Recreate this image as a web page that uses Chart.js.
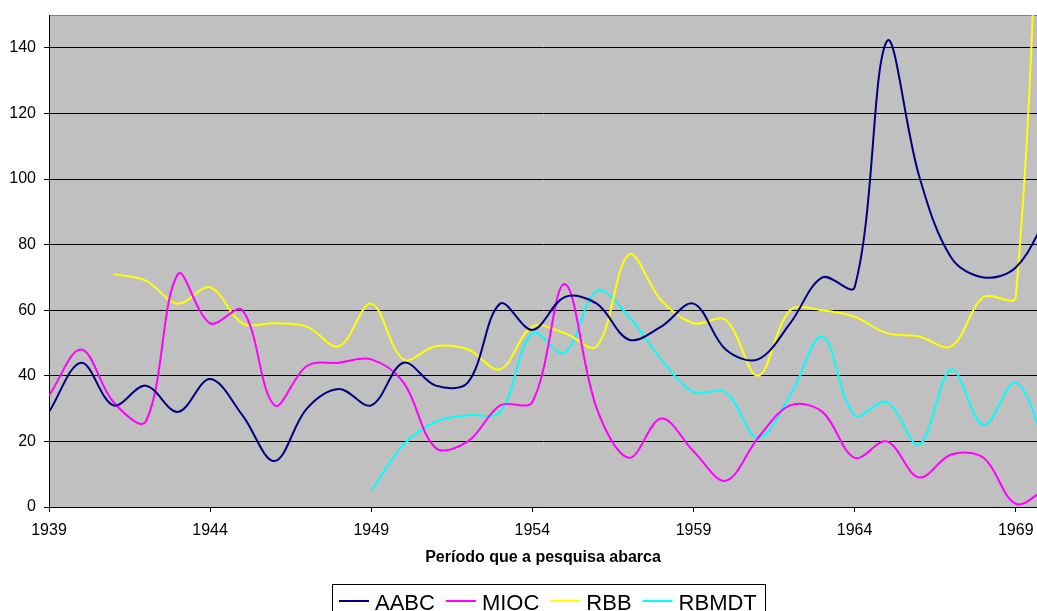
<!DOCTYPE html>
<html>
<head>
<meta charset="utf-8">
<script src="https://cdn.jsdelivr.net/npm/chart.js@4.4.0/dist/chart.umd.min.js"></script>
<style>
html, body { margin: 0; padding: 0; background: #fff; }
#wrap { width: 1037px; height: 611px; }
</style>
</head>
<body>
<div id="wrap"><canvas id="chart"></canvas></div>
<script>
var years = [1939, 1940, 1941, 1942, 1943, 1944, 1945, 1946, 1947, 1948,
             1949, 1950, 1951, 1952, 1953, 1954, 1955, 1956, 1957, 1958,
             1959, 1960, 1961, 1962, 1963, 1964, 1965, 1966, 1967, 1968,
             1969, 1970];
var aabc = [29, 44, 31, 37, 29, 39, 28, 14, 30, 36,
            31, 44, 37, 38, 62, 54, 64, 62, 51, 55,
            62, 48, 45, 56, 70, 67, 142, 101, 76, 70,
            73, 89];
var mioc = [34, 48, 32, 26, 71, 56, 60, 31, 43, 44,
            45, 38, 18, 20, 31, 32, 68, 30, 15, 27,
            17, 8, 21, 31, 29, 15, 20, 9, 16, 15,
            1, 6];
var rbb = [null, null, 71, 69, 62, 67, 56, 56, 55, 49,
           62, 45, 49, 48, 42, 55, 53, 49, 77, 63,
           56, 57, 40, 60, 60, 58, 53, 52, 49, 64,
           64, 290];
var rbmdt = [null, null, null, null, null, null, null, null, null, null,
             5, 19, 26, 28, 29, 53, 47, 66, 58, 45,
             35, 35, 21, 34, 52, 28, 32, 19, 42, 25,
             38, 17];
var yTicks = [0, 20, 40, 60, 80, 100, 120, 140];
var xTicks = [1939, 1944, 1949, 1954, 1959, 1964, 1969];

function pts(vals) {
    return years.map(function (y, i) { return { x: y, y: vals[i] }; });
}

function series(label, vals, color) {
    return {
        label: label,
        data: pts(vals),
        borderColor: color,
        backgroundColor: color,
        borderWidth: 2,
        pointRadius: 0,
        tension: 0.35,
        fill: false
    };
}

// grey plot area, top border and the boxed legend under the axis title
var plotBg = {
    id: 'plotBg',
    beforeDraw: function (chart) {
        var a = chart.chartArea, ctx = chart.ctx;
        ctx.save();
        ctx.fillStyle = '#c0c0c0';
        ctx.fillRect(a.left, a.top, a.right - a.left, a.bottom - a.top);
        ctx.strokeStyle = '#808080';
        ctx.lineWidth = 1;
        ctx.beginPath();
        ctx.moveTo(a.left, a.top + 0.5);
        ctx.lineTo(a.right, a.top + 0.5);
        ctx.stroke();
        ctx.restore();
    },
    afterDraw: function (chart) {
        var ctx = chart.ctx;
        var x = 339;
        ctx.save();
        ctx.font = '22px "Liberation Sans", Arial, sans-serif';
        ctx.textBaseline = 'alphabetic';
        chart.data.datasets.forEach(function (ds) {
            ctx.strokeStyle = ds.borderColor;
            ctx.lineWidth = 2;
            ctx.beginPath();
            ctx.moveTo(x, 601);
            ctx.lineTo(x + 30, 601);
            ctx.stroke();
            ctx.fillStyle = '#000';
            ctx.fillText(ds.label, x + 36, 610);
            x += 36 + ctx.measureText(ds.label).width + 11;
        });
        ctx.strokeStyle = '#000';
        ctx.lineWidth = 1;
        ctx.strokeRect(332.5, 584.5, Math.round(x - 3 - 332), 40);
        ctx.restore();
    }
};

Chart.defaults.font.family = '"Liberation Sans", Arial, sans-serif';
Chart.defaults.color = '#000';

new Chart(document.getElementById('chart'), {
    type: 'line',
    data: {
        datasets: [
            series('AABC', aabc, '#000080'),
            series('MIOC', mioc, '#ff00ff'),
            series('RBB', rbb, '#ffff00'),
            series('RBMDT', rbmdt, '#00ffff')
        ]
    },
    options: {
        responsive: true,
        maintainAspectRatio: false,
        animation: false,
        layout: { padding: { top: 15, right: 0, left: 0, bottom: 0 } },
        plugins: {
            tooltip: { enabled: false },
            legend: { display: false }
        },
        scales: {
            x: {
                type: 'linear',
                min: 1939,
                max: 1969.66,
                afterBuildTicks: function (s) {
                    s.ticks = xTicks.map(function (v) { return { value: v }; });
                },
                afterFit: function (s) {
                    s.height = 104;
                    s.paddingLeft = 0;
                    s.paddingRight = 0;
                },
                grid: {
                    display: true,
                    drawOnChartArea: false,
                    drawTicks: true,
                    tickLength: 5,
                    color: '#000'
                },
                border: { color: '#000', width: 1 },
                ticks: {
                    font: { size: 16 },
                    maxRotation: 0,
                    autoSkip: false,
                    padding: 9,
                    callback: function (v) { return String(v); }
                },
                title: {
                    display: true,
                    text: 'Período que a pesquisa abarca',
                    font: { size: 16, weight: 'bold' },
                    padding: { top: 10, bottom: 44 }
                }
            },
            y: {
                min: 0,
                max: 150,
                afterBuildTicks: function (s) {
                    s.ticks = yTicks.map(function (v) { return { value: v }; });
                },
                afterFit: function (s) {
                    s.width = 49;
                    s.paddingTop = 0;
                    s.paddingBottom = 0;
                },
                grid: {
                    color: '#000',
                    lineWidth: 1,
                    drawTicks: true,
                    tickLength: 5,
                    tickColor: '#000'
                },
                border: { color: '#000', width: 1 },
                ticks: {
                    font: { size: 16 },
                    padding: 8
                }
            }
        }
    },
    plugins: [plotBg]
});
</script>
</body>
</html>
